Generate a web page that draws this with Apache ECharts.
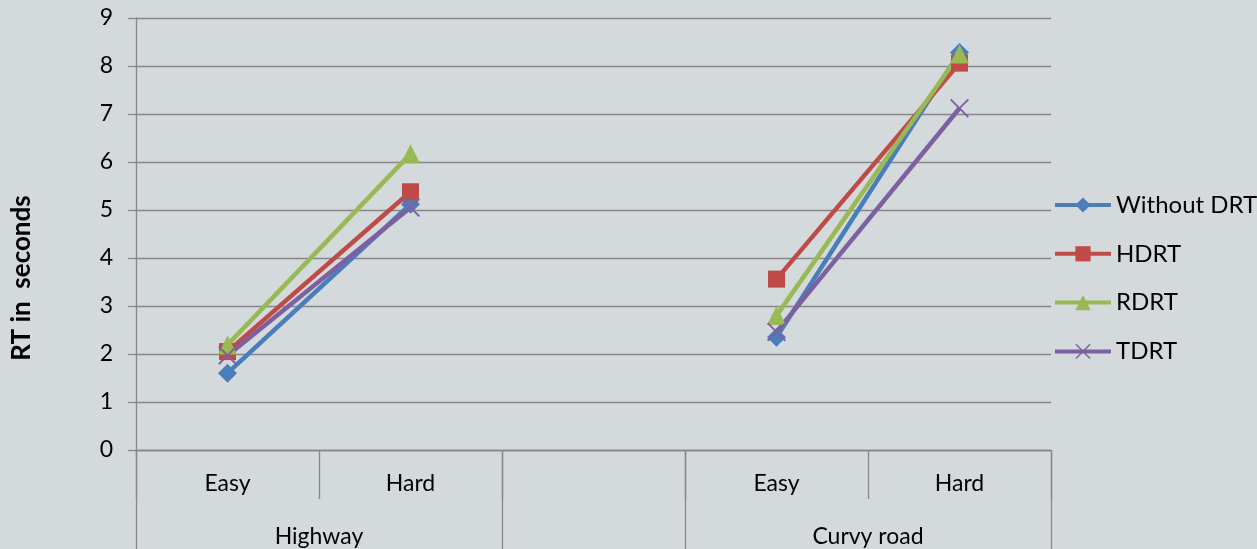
<!DOCTYPE html>
<html>
<head>
<meta charset="utf-8">
<title>RT in seconds</title>
<script src="https://cdn.jsdelivr.net/npm/echarts@6/dist/echarts.min.js"></script>
<style>
  html, body { margin: 0; padding: 0; background: #d4d9dc; }
  #chart { width: 1257px; height: 549px; }
</style>
</head>
<body>
<div id="chart"></div>
<script>
// Conditions on the lower category row, grouped by road type below
const categories = ['Easy', 'Hard', '', 'Easy', 'Hard'];
const groupNames = ['Highway', '', 'Curvy road'];
const groupSpans = [2, 1, 2];

// Reaction times (s) per DRT condition
const seriesNames = ['Without DRT', 'HDRT', 'RDRT', 'TDRT'];
const withoutDRT = [1.60, 5.12, null, 2.35, 8.28];
const hdrt       = [2.05, 5.38, null, 3.56, 8.06];
const rdrt       = [2.19, 6.17, null, 2.80, 8.25];
const tdrt       = [1.97, 5.05, null, 2.46, 7.12];

const yMin = 0, yMax = 9, yStep = 1;
const yTitle = 'RT in  seconds';

const FONT = 'Lato, "Open Sans", sans-serif';
const GRID_COLOR = '#878787';

// boundaries and centres of the outer category groups, in category units
const groupEdges = [0];
groupSpans.forEach(s => groupEdges.push(groupEdges[groupEdges.length - 1] + s));
const groupCenters = groupSpans.map((s, i) => groupEdges[i] + s / 2);

// thin "x" marker
const crossPath = 'path://M0,0.7L0.7,0L10,9.3L9.3,10Z M9.3,0L10,0.7L0.7,10L0,9.3Z';

const styles = [
  { color: '#4a7ebb', symbol: 'diamond', size: 19 },
  { color: '#be4b48', symbol: 'rect', size: 17 },
  { color: '#98b954', symbol: 'triangle', size: 19 },
  { color: '#7d60a0', symbol: crossPath, size: 19 }
];
const values = [withoutDRT, hdrt, rdrt, tdrt];

const chart = echarts.init(document.getElementById('chart'), null, { renderer: 'canvas' });

chart.setOption({
  animation: false,
  backgroundColor: '#d4d9dc',
  textStyle: { fontFamily: FONT },
  grid: { left: 136, right: 206, top: 18, bottom: 99, containLabel: false },
  legend: {
    orient: 'vertical',
    left: 1053,
    top: 193,
    padding: 0,
    itemWidth: 56,
    itemHeight: 19,
    itemGap: 24.8,
    data: seriesNames,
    lineStyle: { width: 4 },
    textStyle: { fontFamily: FONT, fontSize: 24, color: '#000', lineHeight: 22 }
  },
  xAxis: [
    {
      type: 'category',
      data: categories,
      boundaryGap: true,
      axisLine: { show: true, lineStyle: { color: GRID_COLOR, width: 1.3 } },
      axisTick: { show: true, interval: 0, length: 49, lineStyle: { color: GRID_COLOR, width: 1.3 } },
      axisLabel: { interval: 0, margin: 22, fontFamily: FONT, fontSize: 23, color: '#000' },
      splitLine: { show: false }
    },
    {
      type: 'value',
      position: 'bottom',
      min: 0,
      max: categories.length,
      axisLine: { show: false },
      splitLine: { show: false },
      axisTick: {
        show: true,
        customValues: groupEdges,
        length: 99,
        lineStyle: { color: GRID_COLOR, width: 1.3 }
      },
      axisLabel: {
        customValues: groupCenters,
        margin: 75,
        fontFamily: FONT,
        fontSize: 23,
        color: '#000',
        formatter: function (v) {
          const i = groupCenters.indexOf(v);
          return i >= 0 ? groupNames[i] : '';
        }
      }
    }
  ],
  yAxis: {
    type: 'value',
    min: yMin,
    max: yMax,
    interval: yStep,
    axisLine: { show: true, lineStyle: { color: GRID_COLOR, width: 1.3 } },
    axisTick: { show: true, length: 8, lineStyle: { color: GRID_COLOR, width: 1.3 } },
    axisLabel: { margin: 23, fontFamily: FONT, fontSize: 23, color: '#000' },
    splitLine: { show: true, lineStyle: { color: GRID_COLOR, width: 1.3 } }
  },
  graphic: [
    {
      type: 'text',
      x: 22,
      y: 278,
      rotation: Math.PI / 2,
      style: {
        text: yTitle,
        font: 'bold 26px ' + FONT,
        fill: '#000',
        align: 'center',
        verticalAlign: 'middle'
      }
    }
  ],
  series: seriesNames.map((name, i) => ({
    name: name,
    type: 'line',
    xAxisIndex: 0,
    data: values[i],
    connectNulls: false,
    symbol: styles[i].symbol,
    symbolSize: styles[i].size,
    showAllSymbol: true,
    lineStyle: { color: styles[i].color, width: 4.5 },
    itemStyle: { color: styles[i].color },
    emphasis: { disabled: true }
  }))
});
</script>
</body>
</html>
